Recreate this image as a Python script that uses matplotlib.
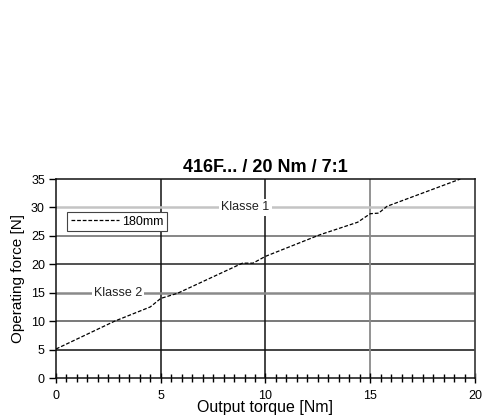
import matplotlib.pyplot as plt
import numpy as np
from matplotlib.ticker import MultipleLocator

# data
torque = [0, 2.8, 4.5, 5.0, 5.8, 8.9, 9.4, 10.0, 12.6, 14.4, 15.0, 15.4, 15.8, 19.3]
force = [5.1, 10.0, 12.5, 14.0, 14.9, 20.2, 20.2, 21.4, 25.2, 27.4, 28.9, 29.0, 30.2, 35.0]
series_label = '180mm'
klasse_labels = ['Klasse 1', 'Klasse 2']
klasse_values = [30, 15]
klasse_text_x = [9.05, 2.95]

plt.rcParams['font.family'] = ['Liberation Sans', 'DejaVu Sans']

fig = plt.figure(figsize=(4.84, 4.17), dpi=100)
ax = fig.add_axes([0.1157, 0.0935, 0.8657, 0.4772])

ax.set_xlim(0, 20)
ax.set_ylim(0, 35)

# horizontal grid lines (various greys as in the original)
hcolors = {5: '#111111', 10: '#555555', 20: '#222222', 25: '#666666'}
for yv, c in hcolors.items():
    ax.axhline(yv, color=c, lw=1.1, zorder=1)
# vertical grid lines
ax.axvline(5, color='#111111', lw=1.1, zorder=1)
ax.axvline(10, color='#111111', lw=1.1, zorder=1)
ax.axvline(15, color='#8a8a8a', lw=1.3, zorder=1)

# class lines
kcolors = ['#c4c4c4', '#8a8a8a']
for val, lab, tx, c in zip(klasse_values, klasse_labels, klasse_text_x, kcolors):
    ax.axhline(val, color=c, lw=1.8, zorder=1)
    ax.text(tx, val, lab, ha='center', va='center', fontsize=9,
            color='#222222', zorder=2,
            bbox=dict(facecolor='white', edgecolor='none', pad=1.5))

ax.plot(torque, force, color='black', ls=(0, (3, 1.5)), lw=0.9,
        label=series_label, zorder=3)

for s in ['left', 'bottom', 'top']:
    ax.spines[s].set_color('#111111')
    ax.spines[s].set_linewidth(1.1)
ax.spines['right'].set_color('#444444')
ax.spines['right'].set_linewidth(1.3)

ax.xaxis.set_major_locator(MultipleLocator(5))
ax.xaxis.set_minor_locator(MultipleLocator(0.5))
ax.yaxis.set_major_locator(MultipleLocator(5))
ax.tick_params(axis='x', which='both', direction='inout', length=6,
               width=1, pad=5, labelsize=9)
ax.tick_params(axis='x', which='major', length=7)
ax.tick_params(axis='y', which='major', direction='out', length=5,
               width=1, pad=3, labelsize=9)

ax.set_xlabel('Output torque [Nm]', fontsize=11.5, labelpad=-1)
ax.set_ylabel('Operating force [N]', fontsize=11, labelpad=4)
ax.set_title('416F... / 20 Nm / 7:1', fontsize=13, fontweight='bold', pad=5)

leg = ax.legend(loc='upper left', bbox_to_anchor=(0.027, 0.835),
                fontsize=9, frameon=True, fancybox=False,
                edgecolor='#444444', framealpha=1, handlelength=3.8,
                borderpad=0.3, handletextpad=0.3, borderaxespad=0)
leg.get_frame().set_linewidth(0.8)

fig.savefig('out.png', dpi=100)
